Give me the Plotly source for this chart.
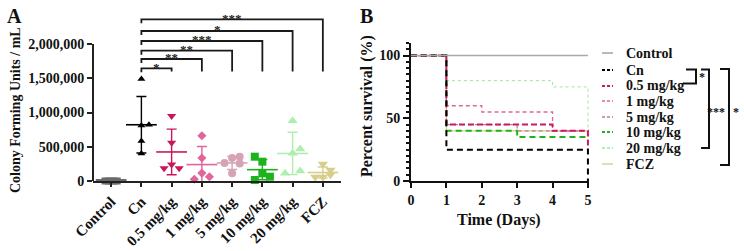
import numpy as np
import plotly.graph_objects as go

W, H = 744, 251
SERIF = "Liberation Serif"

# ---------------- Data: panel A (CFU / mL) ----------------
groups = ["Control", "Cn", "0.5 mg/kg", "1 mg/kg", "5 mg/kg", "10 mg/kg", "20 mg/kg", "FCZ"]
cfu_control = [0, 0, 0, 0, 0]
cfu_cn = [1490000, 810000, 820000, 585000, 400000]
cfu_05 = [950000, 560000, 240000, 185000, 185000]
cfu_1 = [660000, 335000, 115000, 25000, 63000]
cfu_5 = [355000, 335000, 262000, 255000, 112000]
cfu_10 = [355000, 282000, 112000, 63000, 15000]
cfu_20 = [880000, 467000, 404000, 112000, 146000]
cfu_fcz = [250000, 160000, 60000, 60000, 90000]
cfu_all = [cfu_control, cfu_cn, cfu_05, cfu_1, cfu_5, cfu_10, cfu_20, cfu_fcz]

y_tick_vals = [0, 500000, 1000000, 1500000, 2000000]

# significance (Cn vs each group)
sig_targets = ["0.5 mg/kg", "1 mg/kg", "5 mg/kg", "10 mg/kg", "20 mg/kg", "FCZ"]
sig_labels = ["*", "**", "**", "***", "*", "***"]

# ---------------- Data: panel B (survival) ----------------
series_b = ["Control", "Cn", "0.5 mg/kg", "1 mg/kg", "5 mg/kg", "10 mg/kg", "20 mg/kg", "FCZ"]
days_control = [0, 5];          surv_control = [100, 100]
days_cn = [0, 1, 5, 5];         surv_cn = [100, 25, 25, 0]
days_05 = [0, 1, 4, 5, 5];      surv_05 = [100, 45, 40, 40, 25]
days_1 = [0, 1, 2, 4, 5];       surv_1 = [100, 60, 55, 40, 40]
days_5 = [0, 1, 3, 5];          surv_5 = [100, 45, 40, 40]
days_10 = [0, 1, 3, 5];         surv_10 = [100, 40, 35, 35]
days_20 = [0, 1, 4, 5, 5];      surv_20 = [100, 80, 75, 75, 40]
days_fcz = [0, 1, 5];           surv_fcz = [100, 40, 40]
days_all = [days_control, days_cn, days_05, days_1, days_5, days_10, days_20, days_fcz]
surv_all = [surv_control, surv_cn, surv_05, surv_1, surv_5, surv_10, surv_20, surv_fcz]

# ---------------- Styles ----------------
colA = ["#6a6a6a", "#000000", "#c8175d", "#e2649c", "#d6a3b6", "#1db31d", "#aeeeae", "#d6cf8c"]
symA = ["square", "triangle-up", "triangle-down", "diamond", "circle", "square", "triangle-up", "triangle-down"]
sizeA = [7, 7, 8, 7, 8, 8, 9, 9]
jitter = [
    [-0.2, -0.1, 0, 0.1, 0.2],
    [0, 0, 0.25, 0, 0],
    [0, 0, 0, -0.25, 0.25],
    [0, 0, 0, -0.25, 0.25],
    [0.25, 0, -0.25, 0.25, 0],
    [-0.25, 0, 0, 0.25, -0.25],
    [0, 0.25, 0, -0.25, 0.25],
    [0, 0.25, -0.25, 0, 0.25],
]
colB = ["#a8a8a8", "#000000", "#cc1a5e", "#e2649c", "#b97aa0", "#1db31d", "#9fe79f", "#d6cf8c"]
dashB = ["solid", "6px,4px", "6px,3px", "4px,3px", "4px,3px", "6px,4px", "3px,3px", "solid"]
widthB = [1.6, 2.0, 2.0, 1.3, 1.2, 2.0, 1.0, 1.2]

fig = go.Figure()

# ---------------- Panel A traces ----------------
for i, vals in enumerate(cfu_all):
    xs = [i + j for j in jitter[i]]
    fig.add_trace(go.Scatter(
        x=xs, y=vals, mode="markers", cliponaxis=False,
        marker=dict(symbol=symA[i], size=sizeA[i], color=colA[i], line=dict(width=0)),
        xaxis="x", yaxis="y", hoverinfo="skip"))
    m = float(np.mean(vals))
    sd = float(np.std(vals, ddof=1))
    fig.add_trace(go.Scatter(
        x=[i], y=[m], mode="markers", cliponaxis=False,
        marker=dict(symbol="line-ew", size=22, color=colA[i],
                    line=dict(color=colA[i], width=4 if i == 0 else 1.6)),
        error_y=dict(type="data", array=[sd], visible=True, color=colA[i],
                     thickness=1.4, width=5),
        xaxis="x", yaxis="y", hoverinfo="skip"))

# ---------------- Panel B traces (drawn back-to-front) ----------------
for i in reversed(range(len(series_b))):
    fig.add_trace(go.Scatter(
        x=days_all[i], y=surv_all[i], mode="lines", line_shape="hv",
        line=dict(color=colB[i], width=widthB[i], dash=dashB[i]),
        xaxis="x2", yaxis="y2", hoverinfo="skip"))

shapes = []
annotations = []

# y-axis line for panel A (only up to 2,000,000)
shapes.append(dict(type="line", xref="x domain", yref="y", x0=0, x1=0, y0=0, y1=y_tick_vals[-1],
                   line=dict(color="#222", width=2)))

# Significance brackets for panel A
px_per_val = 2000000 / (181 - 44)
def ypx(p):
    return (181 - p) * px_per_val
levels_px = [68.3, 59, 50.7, 41, 31, 19.3]
leg_bottom = ypx(71.5)
cn_idx = groups.index("Cn")
for lvl, tgt, lab in zip(levels_px, sig_targets, sig_labels):
    ti = groups.index(tgt)
    yl = ypx(lvl)
    path = (f"M {cn_idx},{yl - 4*px_per_val} L {cn_idx},{yl} L {ti},{yl} L {ti},{leg_bottom}")
    shapes.append(dict(type="path", xref="x", yref="y", path=path,
                       line=dict(color="#1a1a1a", width=1.8)))
    annotations.append(dict(x=(cn_idx + ti) / 2, y=yl, xref="x", yref="y", text=f"<b>{lab}</b>",
                            showarrow=False, yanchor="middle", yshift=1,
                            font=dict(family=SERIF, size=13, color="#222")))

# ---------------- Manual legend for panel B ----------------
leg_y = [53, 70, 86, 101, 117, 132, 148, 164]
for i, name in enumerate(series_b):
    yp = 1 - leg_y[i] / H
    shapes.append(dict(type="line", xref="paper", yref="paper", x0=602 / W, x1=613 / W, y0=yp, y1=yp,
                       line=dict(color=colB[i], width=max(widthB[i], 1.4),
                                 dash="solid" if dashB[i] == "solid" else "3px,2px")))
    annotations.append(dict(x=624 / W, y=yp, xref="paper", yref="paper", text=f"<b>{name}</b>",
                            showarrow=False, xanchor="left", yanchor="middle",
                            font=dict(family=SERIF, size=14, color="#111")))

# Brackets for panel B
def pp(xpx, ypx_):
    return f"{xpx / W},{1 - ypx_ / H}"
b_brackets = [
    (686, 696, 69.5, 83.5, 683, "*", 702, 77),
    (701, 709, 69.5, 148, 701, "***", 716, 112),
    (720, 729, 69, 165, 720, "*", 736, 112),
]
for xl, xv, yt, yb, xlb, lab, tx, ty in b_brackets:
    path = f"M {pp(xl, yt)} L {pp(xv, yt)} L {pp(xv, yb)} L {pp(xlb, yb)}"
    shapes.append(dict(type="path", xref="paper", yref="paper", path=path,
                       line=dict(color="#111", width=2)))
    annotations.append(dict(x=tx / W, y=1 - ty / H, xref="paper", yref="paper", text=f"<b>{lab}</b>",
                            showarrow=False, xanchor="center", yanchor="middle",
                            font=dict(family=SERIF, size=12, color="#111")))

# Titles and panel labels
annotations += [
    dict(x=14 / W, y=1 - 16 / H, xref="paper", yref="paper", text="<b>A</b>", showarrow=False,
         xanchor="center", yanchor="middle", font=dict(family=SERIF, size=20, color="#111")),
    dict(x=366 / W, y=1 - 16 / H, xref="paper", yref="paper", text="<b>B</b>", showarrow=False,
         xanchor="center", yanchor="middle", font=dict(family=SERIF, size=20, color="#111")),
    dict(x=15 / W, y=1 - 110 / H, xref="paper", yref="paper", text="<b>Colony Forming Units / mL</b>",
         showarrow=False, textangle=-90, xanchor="center", yanchor="middle",
         font=dict(family=SERIF, size=14, color="#111")),
    dict(x=367 / W, y=1 - 106 / H, xref="paper", yref="paper", text="<b>Percent survival (%)</b>",
         showarrow=False, textangle=-90, xanchor="center", yanchor="middle",
         font=dict(family=SERIF, size=16, color="#111")),
    dict(x=499 / W, y=1 - 220 / H, xref="paper", yref="paper", text="<b>Time (Days)</b>",
         showarrow=False, xanchor="center", yanchor="middle",
         font=dict(family=SERIF, size=16, color="#111")),
]

tickfont = dict(family=SERIF, size=14, color="#111", weight="bold")
xtickfontA = dict(family=SERIF, size=15, color="#111", weight="bold")

fig.update_layout(
    width=W, height=H, margin=dict(l=0, r=0, t=0, b=0, autoexpand=False),
    paper_bgcolor="white", plot_bgcolor="white", showlegend=False,
    xaxis=dict(domain=[93 / W, 341 / W], range=[-0.6, 7.6], tickmode="array",
               tickvals=list(range(len(groups))), ticktext=groups, tickangle=-45,
               showline=True, linecolor="#222", linewidth=2, ticks="outside", ticklen=4,
               tickwidth=1.5, tickcolor="#222", showgrid=False, zeroline=False,
               tickfont=xtickfontA, anchor="y", fixedrange=True, automargin=False),
    yaxis=dict(domain=[1 - 181 / H, 1 - 15 / H], range=[0, ypx(15)], tickmode="array",
               tickvals=y_tick_vals, tickformat=",", showline=False, ticks="outside",
               ticklen=5, tickwidth=1.5, tickcolor="#222", showgrid=False, zeroline=False,
               tickfont=tickfont, anchor="x", fixedrange=True, automargin=False),
    xaxis2=dict(domain=[411 / W, 589 / W], range=[0, 5.03], tickmode="array",
                tickvals=[0, 1, 2, 3, 4, 5], showline=True, linecolor="#111", linewidth=2,
                ticks="outside", ticklen=5, tickwidth=2, tickcolor="#111", showgrid=False,
                zeroline=False, tickfont=tickfont, anchor="y2", fixedrange=True, automargin=False),
    yaxis2=dict(domain=[1 - 181 / H, 1 - 43 / H], range=[0, 110], tickmode="array",
                tickvals=[0, 50, 100], showline=True, linecolor="#111", linewidth=2,
                ticks="outside", ticklen=6, tickwidth=2, tickcolor="#111", showgrid=False,
                zeroline=False, tickfont=tickfont, anchor="x2", fixedrange=True, automargin=False,
                minor=dict(ticks="outside", dtick=5, ticklen=3, tickwidth=1.5, tickcolor="#111",
                           showgrid=False)),
    shapes=shapes, annotations=annotations,
)

fig.write_html("out.html", post_script="document.body.style.margin='0';",
               config={"displayModeBar": False})
